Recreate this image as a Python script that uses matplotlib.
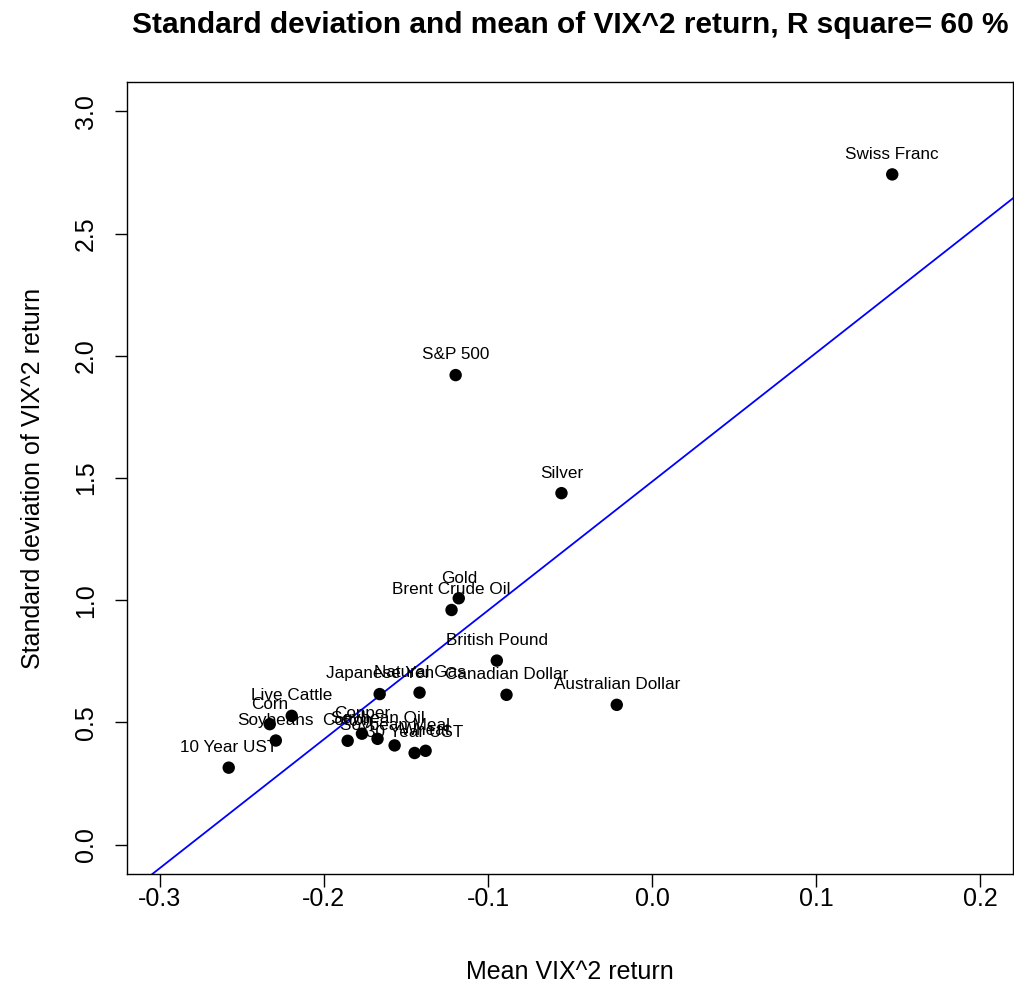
import matplotlib
matplotlib.use("Agg")
import matplotlib.pyplot as plt

plt.rcParams['font.family'] = ['Liberation Sans', 'DejaVu Sans']

names = ["Swiss Franc", "S&P 500", "Silver", "Gold", "Brent Crude Oil",
         "British Pound", "Canadian Dollar", "Australian Dollar", "Japanese Yen",
         "Natural Gas", "Live Cattle", "Corn", "Soybeans", "10 Year UST",
         "Cotton", "Copper", "Soybean Oil", "Soybean Meal", "30 Year UST", "Wheat"]
mean_ret = [0.1464, -0.1197, -0.0552, -0.1178, -0.1222,
            -0.0946, -0.0887, -0.0215, -0.1660,
            -0.1417, -0.2196, -0.2330, -0.2293, -0.2580,
            -0.1855, -0.1768, -0.1673, -0.1569, -0.1447, -0.1380]
sd_ret = [2.742, 1.921, 1.438, 1.008, 0.960,
          0.753, 0.613, 0.572, 0.616,
          0.622, 0.527, 0.493, 0.426, 0.315,
          0.425, 0.454, 0.433, 0.406, 0.375, 0.384]

fit_intercept = 1.485
fit_slope = 5.27

xticks = [-0.3, -0.2, -0.1, 0.0, 0.1, 0.2]
yticks = [0.0, 0.5, 1.0, 1.5, 2.0, 2.5, 3.0]

fig = plt.figure(figsize=(10.14, 10.0), dpi=100)
ax = fig.add_axes([127/1014, 1-874/1000, (1013-127)/1014, (874-82)/1000])

ax.set_xlim(-0.32, 0.22)
ax.set_ylim(-0.12, 3.12)

ax.axline((0, fit_intercept), slope=fit_slope, color='#0000FF', lw=1.3, zorder=1)

ax.scatter(mean_ret, sd_ret, s=80, color='black', zorder=3, edgecolors='none')
for n, x, y in zip(names, mean_ret, sd_ret):
    ax.annotate(n, (x, y), xytext=(0, 14.5), textcoords='offset points',
                ha='center', va='center', fontsize=12.3, color='black', zorder=4)

ax.set_xticks(xticks)
ax.set_xticklabels([f"{t:.1f}" for t in xticks])
ax.set_yticks(yticks)
ax.set_yticklabels([f"{t:.1f}" for t in yticks], rotation=90, va='center')
ax.tick_params(axis='both', labelsize=18, length=9, width=1, direction='out')
ax.tick_params(axis='x', pad=0.5)
ax.tick_params(axis='y', pad=12)
for sp in ax.spines.values():
    sp.set_linewidth(1)

ax.set_xlabel("Mean VIX^2 return", fontsize=18, labelpad=35)
ax.set_ylabel("Standard deviation of VIX^2 return", fontsize=18, labelpad=21)
ax.set_title("Standard deviation and mean of VIX^2 return, R square= 60 %",
             fontsize=21.5, fontweight='bold', pad=35)

fig.savefig("out.png", dpi=100)
